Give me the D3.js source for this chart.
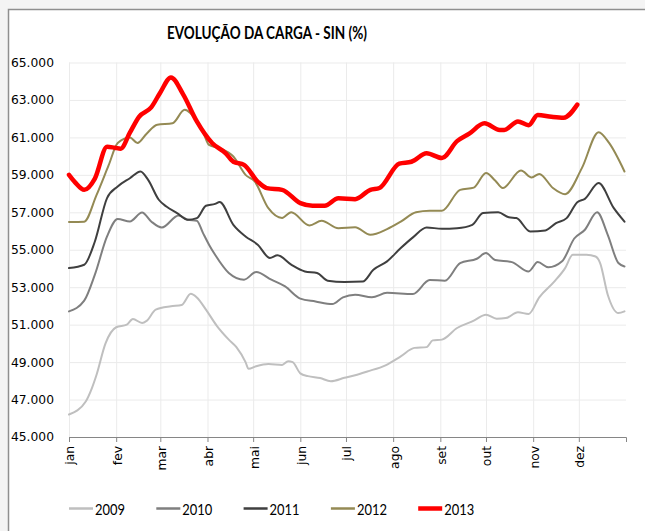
<!DOCTYPE html>
<html>
<head>
<meta charset="utf-8">
<script src="https://cdn.jsdelivr.net/npm/d3@7"></script>
<style>
  body { margin: 0; background: #f4f4f4; }
  svg { display: block; }
</style>
</head>
<body>
<div id="chart"></div>
<script>
var months = ["jan", "fev", "mar", "abr", "mai", "jun", "jul", "ago", "set", "out", "nov", "dez"];
var years = ["2009", "2010", "2011", "2012", "2013"];
var colors = ["#bfbfbf", "#7f7f7f", "#3f3f3f", "#948a54", "#ff0000"];
var yTicks = [45, 47, 49, 51, 53, 55, 57, 59, 61, 63, 65];

// [day of year, carga (mil MWmed)]
var s2009 = [[0,46.2],[11,46.9],[15,47.6],[18,48.3],[24,50.0],[31,50.86],[38,51.0],[42,51.3],[48,51.09],[51,51.2],
  [57,51.8],[67,51.98],[74,52.05],[80,52.65],[84,52.45],[90,51.8],[97,50.95],[105,50.2],[110,49.8],[116,49.0],
  [118,48.64],[123,48.78],[131,48.9],[140,48.85],[144,49.05],[147,49.0],[152,48.4],[157,48.25],[165,48.15],[172,47.98],
  [181,48.16],[188,48.3],[196,48.5],[208,48.83],[218,49.31],[227,49.76],[235,49.8],[239,50.16],[245,50.2],[255,50.82],
  [266,51.21],[274,51.53],[281,51.32],[287,51.35],[295,51.66],[302,51.57],[309,52.46],[319,53.31],[326,54.02],[331,54.73],
  [340,54.73],[346,54.64],[349,54.29],[354,52.6],[361,51.62],[365,51.71]];

var s2010 = [[0,51.71],[10,52.28],[17,53.67],[25,55.71],[32,56.64],[40,56.51],[48,56.99],[54,56.51],[61,56.19],[72,56.83],
  [78,56.6],[84,56.55],[88,55.9],[92,55.27],[96,54.73],[105,53.76],[115,53.4],[123,53.81],[133,53.4],[142,53.04],
  [152,52.39],[162,52.24],[173,52.1],[180,52.46],[188,52.6],[199,52.46],[209,52.7],[226,52.64],[237,53.38],[247,53.35],
  [257,54.29],[268,54.52],[274,54.82],[280,54.45],[291,54.34],[302,53.84],[308,54.34],[315,54.06],[324,54.38],[332,55.6],
  [339,56.07],[347,57.0],[354,55.8],[361,54.29],[365,54.11]];

var s2011 = [[0,54.02],[10,54.2],[17,55.44],[25,57.76],[32,58.38],[40,58.82],[47,59.18],[52,58.73],[59,57.67],[64,57.31],
  [71,56.96],[78,56.6],[84,56.69],[90,57.35],[96,57.45],[99,57.55],[108,56.33],[116,55.71],[124,55.27],[132,54.56],
  [137,54.7],[146,54.2],[155,53.84],[163,53.76],[170,53.35],[181,53.28],[193,53.3],[200,53.93],[209,54.38],[218,55.09],
  [226,55.66],[235,56.19],[245,56.12],[255,56.15],[265,56.33],[272,56.96],[282,57.0],[289,56.73],[294,56.69],[303,55.98],
  [313,56.03],[320,56.42],[327,56.69],[334,57.54],[339,57.72],[348,58.56],[358,57.22],[365,56.5]];

var s2012 = [[0,56.48],[10,56.5],[18,57.9],[26,59.5],[32,60.7],[40,61.0],[45,60.7],[51,61.2],[58,61.67],[68,61.75],
  [76,62.47],[84,61.85],[88,61.3],[92,60.6],[99,60.42],[108,59.98],[116,59.0],[122,58.65],[131,57.22],[140,56.7],
  [146,57.0],[158,56.3],[166,56.55],[177,56.15],[188,56.2],[198,55.8],[209,56.1],[218,56.5],[228,57.0],[237,57.08],
  [245,57.08],[257,58.2],[266,58.32],[274,59.1],[280,58.7],[285,58.3],[297,59.23],[304,58.86],[309,59.05],[318,58.3],
  [326,57.97],[337,59.36],[348,61.28],[355,60.69],[365,59.18]];

var s2013 = [[0,59.0],[4,58.6],[10,58.2],[17,58.8],[25,60.5],[30,60.45],[34,60.4],[40,61.25],[46,62.1],[54,62.6],
  [60,63.4],[67,64.2],[75,63.3],[84,61.85],[94,60.7],[103,60.15],[108,59.7],[115,59.53],[124,58.64],[130,58.29],
  [140,58.2],[152,57.49],[160,57.35],[168,57.35],[177,57.75],[188,57.7],[198,58.2],[204,58.3],[217,59.6],[225,59.7],
  [235,60.15],[245,59.9],[255,60.8],[263,61.2],[273,61.75],[283,61.4],[286,61.4],[295,61.85],[302,61.65],[308,62.2],
  [317,62.1],[325,62.05],[334,62.75]];

var series = [s2009, s2010, s2011, s2012, s2013];

var svgWidth = 645;
var svgHeight = 531;
var margin = { top: 62.5, right: 19, bottom: 94, left: 69 };
var width = svgWidth - margin.left - margin.right;
var height = svgHeight - margin.top - margin.bottom;

var svg = d3.select("#chart")
  .append("svg")
  .attr("width", svgWidth)
  .attr("height", svgHeight);

// chart frame
svg.append("rect")
  .attr("x", 8.5).attr("y", 9.5)
  .attr("width", 700).attr("height", 600)
  .attr("fill", "#fff")
  .attr("stroke", "#8f8f8f")
  .attr("stroke-width", 1.5);

// the reference fonts are tall and narrow, so squeeze text to the measured widths
svg.append("text")
  .attr("x", 167)
  .attr("y", 39)
  .attr("font-family", "Lato, sans-serif")
  .attr("font-weight", "bold")
  .attr("font-size", "16.5px")
  .attr("fill", "#000")
  .attr("textLength", 200)
  .attr("lengthAdjust", "spacingAndGlyphs")
  .text("EVOLUÇÃO DA CARGA - SIN (%)");

var chartGroup = svg.append("g")
  .attr("transform", `translate(${margin.left}, ${margin.top})`);

var t0 = Date.UTC(2012, 0, 1);
function dayDate(d) { return new Date(t0 + d * 864e5); }

var xScale = d3.scaleUtc()
  .domain([new Date(t0), new Date(Date.UTC(2013, 0, 1))])
  .range([0, width]);

var yScale = d3.scaleLinear()
  .domain([45, 65])
  .range([height, 0]);

var monthTicks = d3.utcMonth.range(new Date(t0), new Date(Date.UTC(2013, 0, 1)));

// grid
chartGroup.append("g")
  .attr("class", "grid")
  .call(d3.axisLeft(yScale).tickValues(yTicks).tickSize(-width).tickFormat(""))
  .call(g => g.select(".domain").remove())
  .call(g => g.selectAll("line").attr("stroke", "#ebebeb"));

chartGroup.append("g")
  .attr("class", "grid")
  .attr("transform", `translate(0, ${height})`)
  .call(d3.axisBottom(xScale).tickValues(monthTicks).tickSize(-height).tickFormat(""))
  .call(g => g.select(".domain").remove())
  .call(g => g.selectAll("line").attr("stroke", "#ebebeb"));

// axes
chartGroup.append("g")
  .call(d3.axisLeft(yScale).tickValues(yTicks).tickSize(0).tickPadding(15).tickFormat(d3.format(".3f")))
  .call(g => g.select(".domain").remove())
  .call(g => g.selectAll("text")
    .attr("font-family", "'DejaVu Sans', sans-serif")
    .attr("font-size", "12.3px")
    .attr("fill", "#000"));

chartGroup.append("g")
  .attr("transform", `translate(0, ${height})`)
  .call(d3.axisBottom(xScale).tickValues(monthTicks).tickSize(5).tickFormat((d, i) => months[i]))
  .call(g => g.select(".domain").attr("stroke", "#868686"))
  .call(g => g.selectAll("line").attr("stroke", "#868686"))
  .call(g => g.selectAll("text")
    .attr("font-family", "'DejaVu Sans', sans-serif")
    .attr("font-size", "12.3px")
    .attr("fill", "#000")
    .attr("transform", "rotate(-90)")
    .attr("text-anchor", "end")
    .attr("x", -9)
    .attr("y", 0)
    .attr("dy", "0.4em"));

var line = d3.line()
  .x(d => xScale(dayDate(d[0])))
  .y(d => yScale(d[1]))
  .curve(d3.curveMonotoneX);

chartGroup.selectAll(".serie")
  .data(series)
  .enter()
  .append("path")
  .attr("class", "serie")
  .attr("fill", "none")
  .attr("stroke", (d, i) => colors[i])
  .attr("stroke-width", (d, i) => i == 4 ? 4.5 : 2)
  .attr("stroke-linejoin", "round")
  .attr("stroke-linecap", "round")
  .attr("d", line);

// legend
var legend = svg.append("g")
  .attr("transform", "translate(69, 508.5)");

var item = legend.selectAll("g")
  .data(years)
  .enter()
  .append("g")
  .attr("transform", (d, i) => `translate(${i * 87.3}, 0)`);

item.append("line")
  .attr("x1", 0).attr("x2", 24)
  .attr("stroke", (d, i) => colors[i])
  .attr("stroke-width", (d, i) => i == 4 ? 4.5 : 2.5);

item.append("text")
  .attr("x", 26)
  .attr("y", 6.5)
  .attr("font-family", "Lato, sans-serif")
  .attr("font-size", "16px")
  .attr("fill", "#000")
  .attr("textLength", 30)
  .attr("lengthAdjust", "spacingAndGlyphs")
  .text(d => d);
</script>
</body>
</html>
